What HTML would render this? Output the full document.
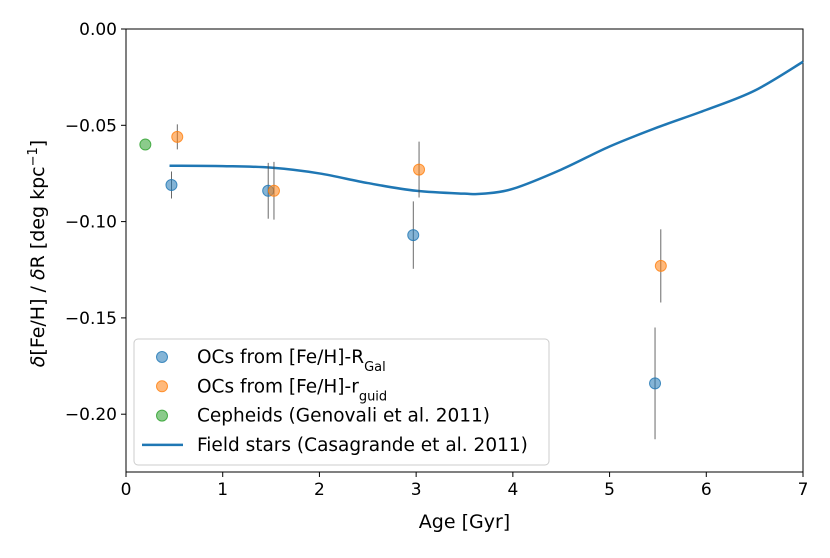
<!DOCTYPE html>
<html><head><meta charset="utf-8"><style>
body{margin:0;background:#fff;font-family:"DejaVu Sans","Liberation Sans",sans-serif}
</style></head><body>
<svg id="chart" width="830" height="554" viewBox="0 0 830 554" xmlns="http://www.w3.org/2000/svg">
<g id="plot"></g>
</svg>
<script>
const xTicks=[0,1,2,3,4,5,6,7];
const yTicks=[0,-0.05,-0.10,-0.15,-0.20];
const yTickLabels=["0.00","\u22120.05","\u22120.10","\u22120.15","\u22120.20"];
const blueAge=[0.47,1.47,2.97,5.47];
const blueVal=[-0.081,-0.084,-0.107,-0.184];
const blueErr=[0.007,0.0145,0.0175,0.029];
const orangeAge=[0.53,1.53,3.03,5.53];
const orangeVal=[-0.056,-0.084,-0.073,-0.123];
const orangeErr=[0.0065,0.015,0.0145,0.019];
const cephAge=[0.2];
const cephVal=[-0.060];
const lineAge=[0.45,1.0,1.5,2.0,2.5,3.0,3.5,3.7,4.0,4.5,5.0,5.5,6.0,6.5,7.0];
const lineVal=[-0.071,-0.0712,-0.072,-0.075,-0.080,-0.084,-0.0855,-0.0855,-0.083,-0.073,-0.061,-0.051,-0.042,-0.032,-0.017];

const L=126,R=803,T=29,B=472;
const X=v=>L+(v-0)/7*(R-L);
const Y=v=>T+(0-v)/0.05*96.3;
const svg=document.getElementById('chart');
const NS='http://www.w3.org/2000/svg';
function mk(tag,attrs,parent){const e=document.createElementNS(NS,tag);for(const k in attrs)e.setAttribute(k,attrs[k]);(parent||svg).appendChild(e);return e;}
const fr=mk('rect',{x:L,y:T,width:R-L,height:B-T,fill:'none',stroke:'#000','stroke-width':1});


xTicks.forEach(t=>{const l=mk('line',{x1:X(t),x2:X(t),y1:B,y2:B+5,stroke:'#000'});


const tx=mk('text',{x:X(t),y:B+23,'text-anchor':'middle','font-size':17});tx.textContent=t;

});
yTicks.forEach((t,i)=>{const l=mk('line',{x1:L-5,x2:L,y1:Y(t),y2:Y(t),stroke:'#000'});


const tx=mk('text',{x:L-9,y:Y(t)+6,'text-anchor':'end','font-size':17});tx.textContent=yTickLabels[i];

});
const xt=mk('text',{x:(L+R)/2,y:528,'text-anchor':'middle','font-size':19});xt.textContent='Age [Gyr]';


const yt=mk('text',{x:0,y:0,'text-anchor':'middle','font-size':19,transform:`translate(44,${(T+B)/2+3}) rotate(-90)`});
yt.innerHTML='<tspan font-style="italic">δ</tspan>[Fe/H] / <tspan font-style="italic">δ</tspan>R [deg kpc<tspan baseline-shift="super" font-size="13">−1</tspan>]';


const P=lineAge.map((a,i)=>[X(a),Y(lineVal[i])]);
let d='M'+P[0][0]+','+P[0][1];
for(let i=0;i<P.length-1;i++){const p0=P[Math.max(0,i-1)],p1=P[i],p2=P[i+1],p3=P[Math.min(P.length-1,i+2)];
 d+=`C${p1[0]+(p2[0]-p0[0])/6},${p1[1]+(p2[1]-p0[1])/6} ${p2[0]-(p3[0]-p1[0])/6},${p2[1]-(p3[1]-p1[1])/6} ${p2[0]},${p2[1]}`;}
const ln=mk('path',{d:d,fill:'none',stroke:'#1f77b4','stroke-width':2.5});


function pts(ages,vals,errs,col,name){ages.forEach((a,i)=>{
 if(errs){const e=mk('line',{x1:X(a),x2:X(a),y1:Y(vals[i]+errs[i]),y2:Y(vals[i]-errs[i]),stroke:'#444','stroke-width':0.8});
 
 }
 const c=mk('circle',{cx:X(a),cy:Y(vals[i]),r:5.5,fill:col,'fill-opacity':0.55,stroke:col,'stroke-opacity':0.8});
 
 });}
pts(blueAge,blueVal,blueErr,'#1f77b4','oc-rgal');
pts(orangeAge,orangeVal,orangeErr,'#ff7f0e','oc-rguid');
pts(cephAge,cephVal,null,'#2ca02c','cepheids');
const lg=mk('g',{});


mk('rect',{x:134,y:339,width:415,height:126,rx:4,fill:'#fff','fill-opacity':0.8,stroke:'#ccc'},lg);
const items=[['#1f77b4','OCs from [Fe/H]-R<tspan baseline-shift="sub" font-size="13">Gal</tspan>','c'],['#ff7f0e','OCs from [Fe/H]-r<tspan baseline-shift="sub" font-size="13">guid</tspan>','c'],['#2ca02c','Cepheids (Genovali et al. 2011)','c'],['#1f77b4','Field stars (Casagrande et al. 2011)','l']];
items.forEach((it,i)=>{const y=357+i*29.3;
 if(it[2]=='c')mk('circle',{cx:162,cy:y,r:5.5,fill:it[0],'fill-opacity':0.55,stroke:it[0],'stroke-opacity':0.8},lg);
 else mk('line',{x1:142,x2:183,y1:y,y2:y,stroke:it[0],'stroke-width':2.5},lg);
 const t=mk('text',{x:197,y:y+6,'font-size':18.5},lg);t.innerHTML=it[1];
 
 });
</script>
</body></html>
